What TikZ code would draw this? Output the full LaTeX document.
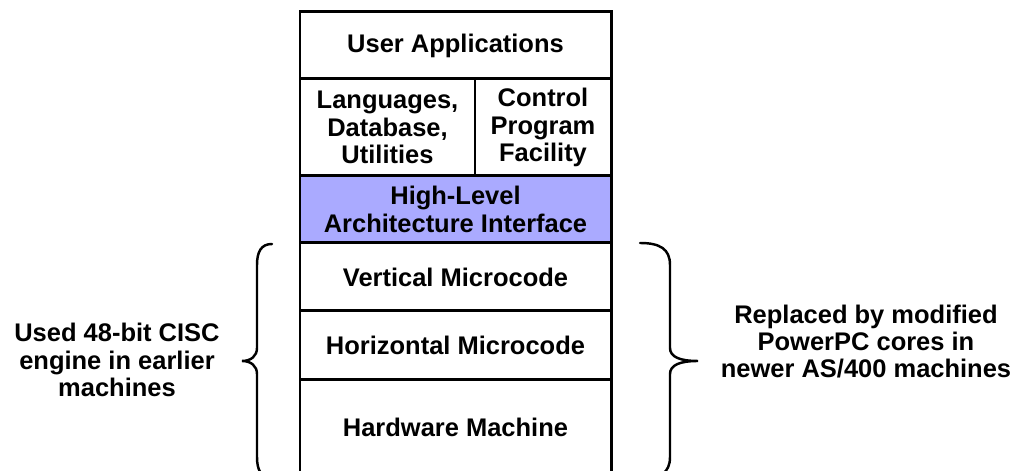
\documentclass[tikz,border=0pt]{standalone}
\usepackage{fontspec}
\setmainfont{Liberation Sans}
\usetikzlibrary{positioning}
\definecolor{hlablue}{RGB}{170,170,255}
\tikzstyle{layer}=[rectangle,draw,line width=1.7pt,outer sep=0pt,inner sep=0pt,align=center,minimum width=6.22cm]
\tikzstyle{sidetext}=[align=center]
\tikzstyle{brace}=[line width=1.4pt,line cap=round]

\begin{document}
\begin{tikzpicture}[font=\bfseries\fontsize{14.5}{15.6}\selectfont]
\useasboundingbox (0,0) rectangle (20.32,9.42);
\clip (0,0) rectangle (20.32,9.42);

%stack
\node[layer, minimum height=1.34cm] (apps) at (9.11,8.51) {User Applications};
\node[layer, minimum width=3.5cm, minimum height=1.94cm, anchor=north west] (lang) at (apps.south west) {Languages,\\Database,\\Utilities};
\node[layer, minimum width=2.72cm, minimum height=1.94cm, anchor=north east] (cpf) at (apps.south east) {Control\\Program\\Facility};
\node[layer, fill=hlablue, minimum height=1.34cm, anchor=north west] (hla) at (lang.south west) {High-Level\\Architecture Interface};
\node[layer, minimum height=1.36cm, below=0pt of hla] (vert) {Vertical Microcode};
\node[layer, minimum height=1.38cm, below=0pt of vert] (horiz) {Horizontal Microcode};
\node[layer, minimum height=1.88cm, below=0pt of horiz] (hw) {Hardware Machine};

%braces
\draw[brace] (5.44,4.54) .. controls (5.22,4.54) and (5.14,4.38) .. (5.14,4.12) -- (5.14,2.46)
  .. controls (5.14,2.30) and (5.02,2.20) .. (4.84,2.20)
  .. controls (5.02,2.20) and (5.14,2.10) .. (5.14,1.94) -- (5.14,0.28)
  .. controls (5.14,0.02) and (5.22,-0.14) .. (5.44,-0.14);
\draw[brace] (12.80,4.56) .. controls (13.20,4.56) and (13.40,4.44) .. (13.40,4.12) -- (13.40,2.46)
  .. controls (13.40,2.28) and (13.60,2.20) .. (13.96,2.20)
  .. controls (13.60,2.20) and (13.40,2.12) .. (13.40,1.94) -- (13.40,0.28)
  .. controls (13.40,-0.04) and (13.20,-0.16) .. (12.80,-0.16);

%side notes
\node[sidetext] (cisc) at (2.34,2.22) {Used 48-bit CISC\\engine in earlier\\machines};
\node[sidetext] (ppc) at (17.32,2.59) {Replaced by modified\\PowerPC cores in\\newer AS/400 machines};

\end{tikzpicture}
\end{document}
